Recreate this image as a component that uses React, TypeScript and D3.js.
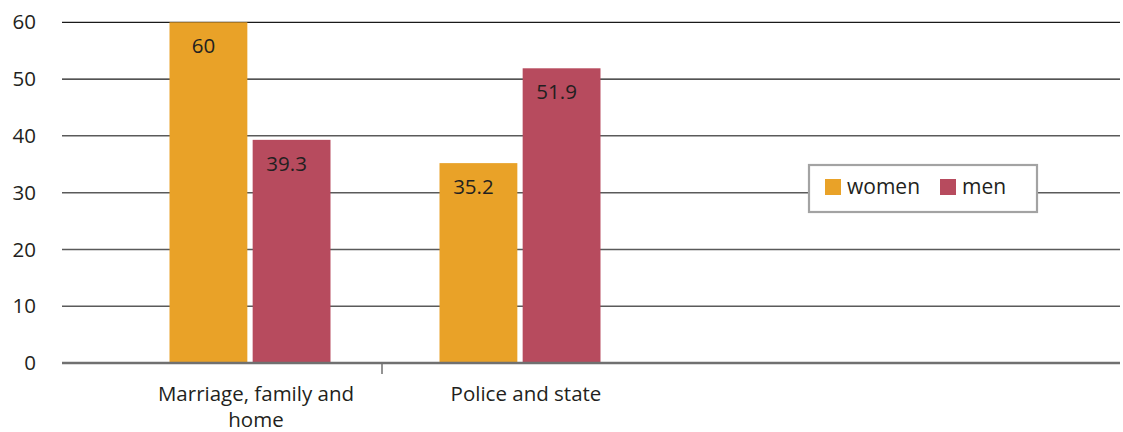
import React from "react";
import * as d3 from "d3";

// Share of respondents by domain, split by sex
const categories = ["Marriage, family and home", "Police and state"];
const categoryLines = [["Marriage, family and", "home"], ["Police and state"]];
const seriesNames = ["women", "men"];
const womenValues = [60, 35.2];
const menValues = [39.3, 51.9];
const yTicks = [0, 10, 20, 30, 40, 50, 60];

const colors: Record<string, string> = { women: "#E9A228", men: "#B74B5E" };

const W = 1123;
const H = 432;
const plotLeft = 62;
const plotRight = 1120;
const font = "'Open Sans', 'Noto Sans', sans-serif";
const textColor = "#231f20";

export default function App() {
  const y = d3.scaleLinear().domain([0, 60]).range([363, 22.3]);
  const x0 = d3.scaleBand<string>().domain(categories).range([115, 655]).paddingInner(0);
  const x1 = d3.scaleBand<string>().domain(seriesNames).range([-80.5, 80.5]).paddingInner(0.064);

  const values: Record<string, number[]> = { women: womenValues, men: menValues };
  const boundaries = categories.slice(1).map((c) => x0(c)! - 3);

  return (
    <svg
      width={W}
      height={H}
      style={{ position: "absolute", left: 0, top: 0, display: "block", background: "#fff" }}
      fontFamily={font}
    >
      {/* horizontal gridlines */}
      {yTicks.filter((t) => t > 0).map((t) => (
        <line
          key={t}
          x1={plotLeft}
          x2={plotRight}
          y1={y(t)}
          y2={y(t)}
          stroke={t >= 50 ? "#1a1a1a" : "#5a5a5a"}
          strokeWidth={t >= 50 ? 1.2 : 1.5}
        />
      ))}

      {/* y tick labels */}
      {yTicks.map((t) => (
        <text
          key={t}
          x={36}
          y={y(t)}
          dy="0.35em"
          textAnchor="end"
          fontSize={20.5}
          fill={textColor}
        >
          {t}
        </text>
      ))}

      {/* bars with value labels */}
      {categories.map((c, i) => {
        const cx = x0(c)! + x0.bandwidth() / 2;
        return (
          <g key={c}>
            {seriesNames.map((s) => {
              const v = values[s][i];
              const bx = cx + x1(s)!;
              return (
                <g key={s}>
                  <rect x={bx} y={y(v)} width={x1.bandwidth()} height={y(0) - y(v)} fill={colors[s]} />
                  <text
                    x={bx + x1.bandwidth() / 2 - 5}
                    y={y(v) + 31}
                    textAnchor="middle"
                    fontSize={20.5}
                    fill={textColor}
                  >
                    {v}
                  </text>
                </g>
              );
            })}
          </g>
        );
      })}

      {/* category axis */}
      <line x1={plotLeft} x2={plotRight} y1={y(0)} y2={y(0)} stroke="#707070" strokeWidth={2.5} />
      {boundaries.map((bx, i) => (
        <line key={i} x1={bx} x2={bx} y1={y(0)} y2={y(0) + 11} stroke="#707070" strokeWidth={1.5} />
      ))}
      {categories.map((c, i) => {
        const cx = x0(c)! + x0.bandwidth() / 2 + 6;
        return (
          <text key={c} x={cx} y={401} textAnchor="middle" fontSize={20.5} fill={textColor}>
            {categoryLines[i].map((line, j) => (
              <tspan key={j} x={cx} dy={j === 0 ? 0 : 26}>
                {line}
              </tspan>
            ))}
          </text>
        );
      })}

      {/* legend */}
      <g>
        <rect x={809} y={165} width={228} height={47} fill="#fff" stroke="#a3a3a3" strokeWidth={2.2} />
        {seriesNames.map((s, i) => {
          const lx = i === 0 ? 825 : 940;
          return (
            <g key={s}>
              <rect x={lx} y={179} width={16} height={16} fill={colors[s]} />
              <text x={lx + 22} y={194} fontSize={21} fill={textColor}>
                {s}
              </text>
            </g>
          );
        })}
      </g>
    </svg>
  );
}
